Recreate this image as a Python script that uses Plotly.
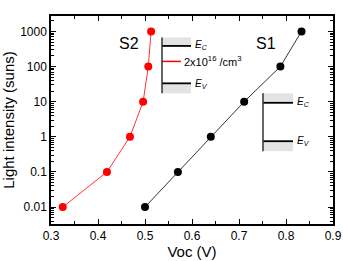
import plotly.graph_objects as go
import numpy as np

# Data
s2_voc = [0.325, 0.419, 0.468, 0.496, 0.507, 0.513]
s2_int = [0.01, 0.1, 1, 10, 100, 1000]
s1_voc = [0.500, 0.570, 0.640, 0.711, 0.788, 0.833]
s1_int = [0.01, 0.1, 1, 10, 100, 1000]
y_ticks = [0.01, 0.1, 1, 10, 100, 1000]
y_ticklabels = ["0.01", "0.1", "1", "10", "100", "1000"]
x_ticks = [0.3, 0.4, 0.5, 0.6, 0.7, 0.8, 0.9]

W, H = 343, 261
L, R, T, B = 51, 333, 15.5, 224

def px(x):
    return (x - L) / (R - L)

def py(y):
    return (B - y) / (B - T)

fig = go.Figure()
fig.add_trace(go.Scatter(x=s2_voc, y=s2_int, mode="lines+markers",
                         line=dict(color="#ff0000", width=0.8),
                         marker=dict(color="#ff0000", size=8), showlegend=False))
fig.add_trace(go.Scatter(x=s1_voc, y=s1_int, mode="lines+markers",
                         line=dict(color="#000000", width=0.8),
                         marker=dict(color="#000000", size=8), showlegend=False))

minor_vals = []
for d in range(-3, 4):
    for m in range(2, 10):
        minor_vals.append(m * 10.0 ** d)

fig.update_xaxes(range=[0.3, 0.9], tickvals=x_ticks, ticktext=[f"{v:.1f}" for v in x_ticks],
                 ticks="inside", ticklen=5, tickwidth=1, tickcolor="black",
                 minor=dict(ticks="inside", ticklen=3, dtick=0.05, tick0=0.3, tickcolor="black"),
                 showline=True, linecolor="black", linewidth=1.5, mirror="ticks",
                 showgrid=False, zeroline=False, automargin=False,
                 title=dict(text="Voc (V)", font=dict(size=15, color="black"), standoff=3),
                 tickfont=dict(size=12, color="black"))
fig.update_yaxes(type="log", range=[np.log10(0.0033), np.log10(2750)],
                 tickvals=y_ticks, ticktext=y_ticklabels,
                 ticks="inside", ticklen=5, tickwidth=1, tickcolor="black",
                 minor=dict(ticks="inside", ticklen=3, tickvals=minor_vals, tickcolor="black"),
                 showline=True, linecolor="black", linewidth=1.5, mirror="ticks",
                 showgrid=False, zeroline=False, automargin=False,
                 title=dict(text="Light intensity (suns)", font=dict(size=15, color="black"), standoff=3),
                 tickfont=dict(size=12, color="black"))

shapes = []
def band(x0, x1, y0, y1):
    shapes.append(dict(type="rect", xref="paper", yref="paper", x0=px(x0), x1=px(x1),
                       y0=py(y1), y1=py(y0), fillcolor="#e3e3e3", line=dict(width=0), layer="below"))

def hline(x0, x1, y, color="black", w=1.8):
    shapes.append(dict(type="line", xref="paper", yref="paper", x0=px(x0), x1=px(x1),
                       y0=py(y), y1=py(y), line=dict(color=color, width=w)))

def vline(x, y0, y1):
    shapes.append(dict(type="line", xref="paper", yref="paper", x0=px(x), x1=px(x),
                       y0=py(y0), y1=py(y1), line=dict(color="#333333", width=1.5)))

# S2 inset
band(162, 191, 37, 46)
band(162, 191, 83, 93)
hline(162, 191, 45.5)
hline(162, 191, 83)
hline(162, 181, 61, color="#ff0000", w=1.5)
vline(162, 37, 93)
# S1 inset
band(263, 293, 93, 103)
band(263, 293, 141, 151)
hline(263, 293, 102.5)
hline(263, 293, 141)
vline(263, 93, 151)

ann = []
def text(x, y, s, size=9, xanchor="left"):
    ann.append(dict(xref="paper", yref="paper", x=px(x), y=py(y), text=s, showarrow=False,
                    xanchor=xanchor, yanchor="middle", font=dict(size=size, color="black")))

text(129, 43, "S2", size=16, xanchor="center")
text(266, 43, "S1", size=16, xanchor="center")
text(193, 45, "<i>E<sub>C</sub></i>", size=10)
text(193, 84, "<i>E<sub>V</sub></i>", size=10)
text(182, 61, "2x10<sup>16</sup> /cm<sup>3</sup>", size=11)
text(295, 102, "<i>E<sub>C</sub></i>", size=10)
text(295, 141, "<i>E<sub>V</sub></i>", size=10)

fig.update_layout(width=W, height=H, margin=dict(l=L, r=W - R, t=T, b=H - B),
                  plot_bgcolor="white", paper_bgcolor="white",
                  font=dict(family="Liberation Sans, Arial, sans-serif", color="black"),
                  shapes=shapes, annotations=ann)

fig.write_html("out.html", config={"displayModeBar": False},
               post_script="document.body.style.margin='0';document.body.style.overflow='hidden';")
